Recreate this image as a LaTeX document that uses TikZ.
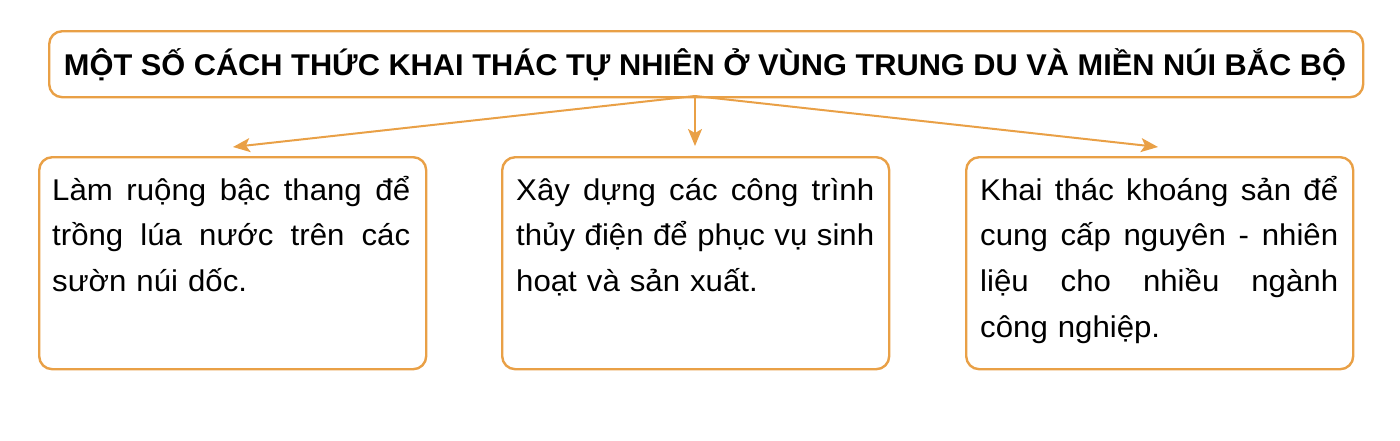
\documentclass[tikz,border=0pt]{standalone}
\usepackage{fontspec}
\usepackage{graphicx}
\usetikzlibrary{arrows.meta}
\newfontfamily\bodyfont[FakeStretch=1.04]{Liberation Sans}
\newfontfamily\titlefont{Liberation Sans Bold}
\definecolor{frameor}{RGB}{233,160,70}
\newcommand{\jline}[1]{\leavevmode\hbox to 358pt{\spaceskip=0.28em plus 1fil\relax\xspaceskip=\spaceskip #1}}
\tikzset{
  framebox/.style={draw=frameor, line width=2.4pt, rounded corners=13pt, fill=white, inner sep=0pt, anchor=north west},
  itembox/.style={framebox, minimum width=387pt, minimum height=212pt},
  itemtext/.style={anchor=north west, inner sep=0pt, text width=358pt, align=left,
    font=\bodyfont\fontsize{30}{45.6}\selectfont},
  conn/.style={draw=frameor, line width=2pt, -{Stealth[length=17pt,width=14pt,inset=4pt]}}
}
\begin{document}
\begin{tikzpicture}[x=1pt,y=-1pt]
\useasboundingbox (0,0) rectangle (1400,440);
\node[framebox, minimum width=1314pt, minimum height=66pt] (title) at (48,30) {};
\node[inner sep=0pt, anchor=base] (titletext) at (705,75)
  {\resizebox{1282pt}{\height}{\titlefont\fontsize{30}{36}\selectfont MỘT SỐ CÁCH THỨC KHAI THÁC TỰ NHIÊN Ở VÙNG TRUNG DU VÀ MIỀN NÚI BẮC BỘ}};
\node[itembox] (b1) at (38,156) {};
\node[itembox] (b2) at (501,156) {};
\node[itembox] (b3) at (965,156) {};
\node[itemtext] (t1) at (52,168) {\rule{0pt}{32pt}\jline{Làm ruộng bậc thang để}\\
\jline{trồng lúa nước trên các}\\
sườn núi dốc.};
\node[itemtext] (t2) at (516,168) {\rule{0pt}{32pt}\jline{Xây dựng các công trình}\\
\jline{thủy điện để phục vụ sinh}\\
hoạt và sản xuất.};
\node[itemtext] (t3) at (980,168) {\rule{0pt}{32pt}\jline{Khai thác khoáng sản để}\\
\jline{cung cấp nguyên - nhiên}\\
\jline{liệu cho nhiều ngành}\\
công nghiệp.};
\coordinate (src) at (695,96);
\coordinate (e1) at (233,147);
\coordinate (e2) at (695,146);
\coordinate (e3) at (1158,147);
\draw[conn] (src) -- (e1);
\draw[conn] (src) -- (e2);
\draw[conn] (src) -- (e3);
\end{tikzpicture}
\end{document}
